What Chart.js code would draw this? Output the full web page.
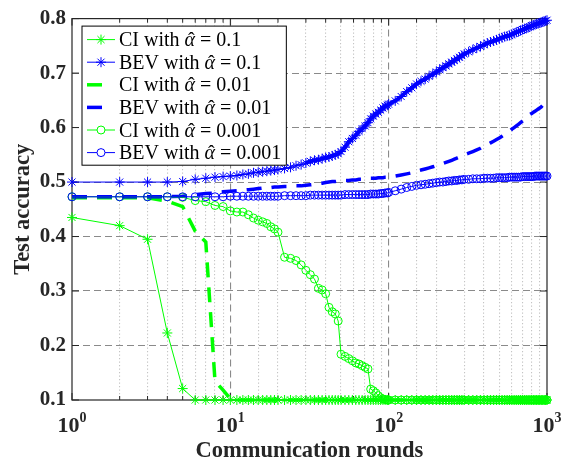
<!DOCTYPE html>
<html><head><meta charset="utf-8">
<script src="https://cdn.jsdelivr.net/npm/chart.js@4.4.0/dist/chart.umd.min.js"></script>
<style>html,body{margin:0;padding:0;background:#fff}</style>
</head><body>
<canvas id="c" width="576" height="470"></canvas>
<script>
// ---- data ----
const rounds = [
  1,2,3,4,5,6,7,8,9,10,11,12,13,14,15,16,17,18,19,20,
  22,24,26,28,30,32,34,36,38,40,42,44,46,48,50,
  53,56,59,62,65,68,71,74,77,80,83,86,89,92,95,98,
  100,110,120,130,140,150,160,170,180,190,200,210,220,230,240,250,260,270,280,290,300,
  320,340,360,380,400,420,440,460,480,500,520,540,560,580,600,620,640,660,680,700,720,740,760,780,800,820,840,860,880,900,920,940,960,980,1000
];
const seriesLabels = [
  'CI with α̂ = 0.1', 'BEV with α̂ = 0.1',
  'CI with α̂ = 0.01', 'BEV with α̂ = 0.01',
  'CI with α̂ = 0.001', 'BEV with α̂ = 0.001'
];
const ciA1 = [
  0.435,0.42,0.395,0.223,0.121,0.1,0.1,0.1,0.1,0.1,0.1,0.1,0.1,0.1,0.1,0.1,0.1,0.1,0.1,0.1,
  0.1,0.1,0.1,0.1,0.1,0.1,0.1,0.1,0.1,0.1,0.1,0.1,0.1,0.1,0.1,
  0.1,0.1,0.1,0.1,0.1,0.1,0.1,0.1,0.1,0.1,0.1,0.1,0.1,0.1,0.1,0.1,
  0.1,0.1,0.1,0.1,0.1,0.1,0.1,0.1,0.1,0.1,0.1,0.1,0.1,0.1,0.1,0.1,0.1,0.1,0.1,0.1,0.1,
  0.1,0.1,0.1,0.1,0.1,0.1,0.1,0.1,0.1,0.1,0.1,0.1,0.1,0.1,0.1,0.1,0.1,0.1,0.1,0.1,0.1,0.1,0.1,0.1,0.1,0.1,0.1,0.1,0.1,0.1,0.1,0.1,0.1,0.1,0.1
];
const bevA1 = [
  0.5,0.5,0.5,0.5,0.501,0.505,0.507,0.509,0.51,0.511,0.512,0.514,0.515,0.517,0.518,0.519,0.52,0.521,0.522,0.523,
  0.525,0.527,0.53,0.532,0.535,0.538,0.54,0.541,0.543,0.545,0.546,0.548,0.55,0.552,0.556,
  0.564,0.574,0.58,0.586,0.593,0.598,0.603,0.609,0.616,0.621,0.625,0.628,0.632,0.636,0.639,0.641,
  0.643,0.649,0.657,0.666,0.673,0.68,0.685,0.689,0.694,0.698,0.702,0.706,0.71,0.713,0.717,0.72,0.723,0.726,0.729,0.732,0.735,
  0.739,0.743,0.746,0.749,0.752,0.755,0.757,0.759,0.761,0.763,0.765,0.767,0.768,0.769,0.771,0.773,0.775,0.776,0.778,0.78,0.781,0.782,0.784,0.785,0.787,0.788,0.789,0.79,0.791,0.792,0.793,0.794,0.795,0.796,0.797
];
const ciA01 = [
  0.471,0.471,0.471,0.465,0.455,0.41,0.39,0.135,0.118,0.102,0.1,0.1,0.1,0.1,0.1,0.1,0.1,0.1,0.1,0.1,
  0.1,0.1,0.1,0.1,0.1,0.1,0.1,0.1,0.1,0.1,0.1,0.1,0.1,0.1,0.1,
  0.1,0.1,0.1,0.1,0.1,0.1,0.1,0.1,0.1,0.1,0.1,0.1,0.1,0.1,0.1,0.1,
  0.1,0.1,0.1,0.1,0.1,0.1,0.1,0.1,0.1,0.1,0.1,0.1,0.1,0.1,0.1,0.1,0.1,0.1,0.1,0.1,0.1,
  0.1,0.1,0.1,0.1,0.1,0.1,0.1,0.1,0.1,0.1,0.1,0.1,0.1,0.1,0.1,0.1,0.1,0.1,0.1,0.1,0.1,0.1,0.1,0.1,0.1,0.1,0.1,0.1,0.1,0.1,0.1,0.1,0.1,0.1,0.1
];
const bevA01 = [
  0.473,0.473,0.473,0.473,0.474,0.477,0.479,0.48,0.482,0.483,0.484,0.485,0.486,0.487,0.488,0.489,0.49,0.49,0.491,0.491,
  0.492,0.492,0.493,0.493,0.494,0.495,0.496,0.497,0.498,0.499,0.5,0.501,0.501,0.502,0.502,
  0.503,0.503,0.504,0.504,0.505,0.505,0.506,0.506,0.507,0.507,0.507,0.508,0.508,0.508,0.509,0.509,
  0.509,0.511,0.513,0.515,0.517,0.52,0.522,0.524,0.526,0.528,0.53,0.532,0.534,0.536,0.538,0.54,0.542,0.544,0.546,0.548,0.55,
  0.553,0.556,0.559,0.562,0.566,0.569,0.572,0.575,0.578,0.581,0.584,0.587,0.59,0.593,0.597,0.6,0.603,0.606,0.609,0.612,0.615,0.618,0.621,0.624,0.626,0.628,0.63,0.632,0.634,0.636,0.638,0.641,0.643,0.645,0.647
];
const ciA001 = [
  0.473,0.473,0.473,0.473,0.472,0.466,0.464,0.457,0.455,0.447,0.445,0.445,0.44,0.434,0.43,0.427,0.424,0.418,0.414,0.408,
  0.362,0.36,0.356,0.348,0.338,0.33,0.322,0.305,0.302,0.295,0.27,0.262,0.258,0.245,0.184,
  0.18,0.176,0.172,0.168,0.166,0.163,0.16,0.157,0.12,0.117,0.113,0.108,0.104,0.102,0.101,0.1,
  0.1,0.1,0.1,0.1,0.1,0.1,0.1,0.1,0.1,0.1,0.1,0.1,0.1,0.1,0.1,0.1,0.1,0.1,0.1,0.1,0.1,
  0.1,0.1,0.1,0.1,0.1,0.1,0.1,0.1,0.1,0.1,0.1,0.1,0.1,0.1,0.1,0.1,0.1,0.1,0.1,0.1,0.1,0.1,0.1,0.1,0.1,0.1,0.1,0.1,0.1,0.1,0.1,0.1,0.1,0.1,0.1
];
const bevA001 = [
  0.473,0.473,0.473,0.473,0.473,0.473,0.473,0.473,0.473,0.474,0.474,0.474,0.474,0.474,0.474,0.474,0.474,0.474,0.474,0.474,
  0.475,0.475,0.475,0.475,0.475,0.476,0.476,0.476,0.476,0.476,0.476,0.476,0.476,0.476,0.476,
  0.477,0.477,0.477,0.477,0.477,0.477,0.477,0.477,0.478,0.478,0.478,0.478,0.479,0.479,0.48,0.48,
  0.481,0.484,0.487,0.49,0.492,0.494,0.495,0.496,0.497,0.498,0.499,0.5,0.5,0.501,0.502,0.502,0.503,0.503,0.504,0.504,0.505,
  0.505,0.506,0.506,0.506,0.507,0.507,0.507,0.507,0.508,0.508,0.508,0.508,0.508,0.509,0.509,0.509,0.509,0.509,0.509,0.51,0.51,0.51,0.51,0.51,0.51,0.51,0.511,0.511,0.511,0.511,0.511,0.511,0.511,0.511,0.511
];
const xTickExponents = {1: '0', 10: '1', 100: '2', 1000: '3'};

// ---- styling ----
const SERIF = "'Liberation Serif', 'Times New Roman', serif";
const GREEN = '#00ff00', BLUE = '#0000ff', AXC = '#262626';
const pts = vals => rounds.map((r, i) => ({x: r, y: vals[i]}));
const isDecade = v => Math.abs(Math.log10(v) - Math.round(Math.log10(v))) < 1e-9;

function mk(i, vals, color, kind) {
  const ds = {label: seriesLabels[i], data: pts(vals), borderColor: color, backgroundColor: color,
    tension: 0, order: 6 - i, clip: false, _kind: kind};
  if (kind === 'star') Object.assign(ds, {borderWidth: 1, pointStyle: 'star', pointRadius: 5, pointBorderWidth: 1, pointBorderColor: color, pointBackgroundColor: color});
  if (kind === 'circle') Object.assign(ds, {borderWidth: 1, pointStyle: 'circle', pointRadius: 4, pointBorderWidth: 1, pointBorderColor: color, pointBackgroundColor: 'rgba(0,0,0,0)'});
  if (kind === 'dash') Object.assign(ds, {borderWidth: 3.5, borderDash: [15, 10], pointRadius: 0});
  ds.pointHoverRadius = ds.pointRadius;
  return ds;
}

const framePlugin = {
  id: 'frame',
  beforeDatasetsDraw(chart) {
    const {ctx, chartArea: a, scales: {x, y}} = chart;
    ctx.save();
    ctx.strokeStyle = AXC; ctx.lineWidth = 1.2; ctx.setLineDash([]);
    ctx.strokeRect(a.left, a.top, a.right - a.left, a.bottom - a.top);
    ctx.lineWidth = 1;
    ctx.beginPath();
    x.ticks.forEach(t => {
      const px = x.getPixelForValue(t.value), L = isDecade(t.value) ? 7 : 4;
      ctx.moveTo(px, a.bottom); ctx.lineTo(px, a.bottom - L);
      ctx.moveTo(px, a.top); ctx.lineTo(px, a.top + L);
    });
    y.ticks.forEach(t => {
      const py = y.getPixelForValue(t.value);
      ctx.moveTo(a.left, py); ctx.lineTo(a.left + 7, py);
      ctx.moveTo(a.right, py); ctx.lineTo(a.right - 7, py);
    });
    ctx.stroke();
    ctx.restore();
  },
  afterDraw(chart) {
    // decade tick labels 10^k with a raised exponent
    const {ctx, chartArea: a, scales: {x}} = chart;
    ctx.save();
    ctx.fillStyle = AXC; ctx.textBaseline = 'alphabetic'; ctx.textAlign = 'left';
    x.ticks.forEach(t => {
      const e = xTickExponents[Math.round(t.value)];
      if (e === undefined || !isDecade(t.value)) return;
      const px = x.getPixelForValue(t.value);
      ctx.font = `bold 22px ${SERIF}`; const wb = ctx.measureText('10').width;
      ctx.font = `bold 14px ${SERIF}`; const we = ctx.measureText(e).width;
      const x0 = px - (wb + we) / 2;
      ctx.font = `bold 22px ${SERIF}`; ctx.fillText('10', x0, a.bottom + 32);
      ctx.font = `bold 14px ${SERIF}`; ctx.fillText(e, x0 + wb, a.bottom + 22);
    });
    ctx.restore();
  }
};

const legendPlugin = {
  id: 'boxLegend',
  afterDraw(chart) {
    const {ctx, chartArea: a} = chart;
    const fs = 20;
    const fN = `${fs}px ${SERIF}`, fI = `italic ${fs}px ${SERIF}`;
    const left = a.left + 10, top = a.top + 7.5, rowH = 22.6, symW = 28, textX = left + 37;
    ctx.save();
    const measure = d => {
      const parts = d.label.split('α̂');
      ctx.font = fN; const w0 = ctx.measureText(parts[0]).width, w2 = ctx.measureText(parts[1]).width;
      ctx.font = fI; const wa = ctx.measureText('α').width;
      return {parts, w0, wa, w2};
    };
    const widths = chart.data.datasets.map(d => { const m = measure(d); return m.w0 + m.wa + m.w2; });
    const W = 37 + Math.max(...widths) + 5, H = rowH * 6 + 3.5;
    ctx.fillStyle = '#fff'; ctx.fillRect(left, top, W, H);
    ctx.strokeStyle = '#000'; ctx.lineWidth = 1; ctx.strokeRect(left, top, W, H);
    chart.data.datasets.forEach((d, i) => {
      const cy = top + 13.5 + i * rowH, x0 = left + 5, x1 = x0 + symW, cx = (x0 + x1) / 2;
      ctx.strokeStyle = d.borderColor; ctx.lineWidth = d.borderWidth; ctx.setLineDash([]);
      ctx.beginPath(); ctx.moveTo(x0, cy); ctx.lineTo(d._kind === 'dash' ? x0 + 15 : x1, cy); ctx.stroke();
      ctx.lineWidth = 1;
      if (d._kind === 'star') {
        const r = d.pointRadius, q = r * Math.SQRT1_2;
        ctx.beginPath();
        ctx.moveTo(cx - r, cy); ctx.lineTo(cx + r, cy);
        ctx.moveTo(cx, cy - r); ctx.lineTo(cx, cy + r);
        ctx.moveTo(cx - q, cy - q); ctx.lineTo(cx + q, cy + q);
        ctx.moveTo(cx - q, cy + q); ctx.lineTo(cx + q, cy - q);
        ctx.stroke();
      } else if (d._kind === 'circle') {
        ctx.fillStyle = '#fff';
        ctx.beginPath(); ctx.arc(cx, cy, d.pointRadius, 0, Math.PI * 2); ctx.fill(); ctx.stroke();
      }
      const m = measure(d);
      ctx.fillStyle = '#000'; ctx.textBaseline = 'alphabetic'; ctx.textAlign = 'left';
      const by = cy + 6.5;
      let tx = textX;
      ctx.font = fN; ctx.fillText(m.parts[0], tx, by); tx += m.w0;
      ctx.font = fI; ctx.fillText('α', tx, by);
      ctx.font = fN; ctx.textAlign = 'center'; ctx.fillText('ˆ', tx + m.wa / 2 + 1.5, by + 1);
      ctx.textAlign = 'left'; tx += m.wa;
      ctx.font = fN; ctx.fillText(m.parts[1], tx, by);
    });
    ctx.restore();
  }
};

const bevA1Set = mk(1, bevA1, BLUE, 'star');
bevA1Set.segment = {borderWidth: c => (c.p0.parsed.x >= 30 ? 4 : 1)};

new Chart(document.getElementById('c'), {
  type: 'line',
  data: {datasets: [
    mk(0, ciA1, GREEN, 'star'),
    bevA1Set,
    mk(2, ciA01, GREEN, 'dash'),
    mk(3, bevA01, BLUE, 'dash'),
    mk(4, ciA001, GREEN, 'circle'),
    mk(5, bevA001, BLUE, 'circle')
  ]},
  options: {
    responsive: false, devicePixelRatio: 1, animation: false, events: [],
    layout: {padding: {left: 0, right: 29, top: 8, bottom: 0}},
    plugins: {legend: {display: false}, tooltip: {enabled: false}},
    scales: {
      x: {
        type: 'logarithmic', min: 1, max: 1000,
        afterFit: s => { s.height = 70; },
        ticks: {autoSkip: false, maxRotation: 0, padding: 12, color: AXC,
          font: {family: SERIF, size: 14, weight: 'bold'},
          callback: () => ''},
        grid: {drawTicks: false, lineWidth: 1.1,
          color: c => { const v = c.tick && c.tick.value; if (!v || v <= 1 || v >= 1000) return 'rgba(0,0,0,0)'; return isDecade(v) ? '#8a8a8a' : '#c4c4c4'; }},
        border: {display: false,
          dash: c => { const v = c.tick && c.tick.value; return (v && isDecade(v)) ? [7, 4] : [1.2, 2.3]; }},
        title: {display: true, text: 'Communication rounds', color: AXC,
          font: {family: SERIF, size: 22.5, weight: 'bold'}, padding: {top: 0, bottom: 5}}
      },
      y: {
        type: 'linear', min: 0.1, max: 0.8,
        afterFit: s => { s.width = 72; },
        ticks: {stepSize: 0.1, padding: 6, color: AXC,
          font: {family: SERIF, size: 21, weight: 'bold'},
          callback: v => v.toFixed(1)},
        grid: {drawTicks: false, lineWidth: 1.1,
          color: c => { const v = c.tick && c.tick.value; if (v === undefined || v < 0.1001 || v > 0.7999) return 'rgba(0,0,0,0)'; return '#8a8a8a'; }},
        border: {display: false, dash: [7, 4]},
        title: {display: true, text: 'Test accuracy', color: AXC,
          font: {family: SERIF, size: 22.5, weight: 'bold'}, padding: {top: 10, bottom: 0}}
      }
    }
  },
  plugins: [framePlugin, legendPlugin]
});
</script>
</body></html>
